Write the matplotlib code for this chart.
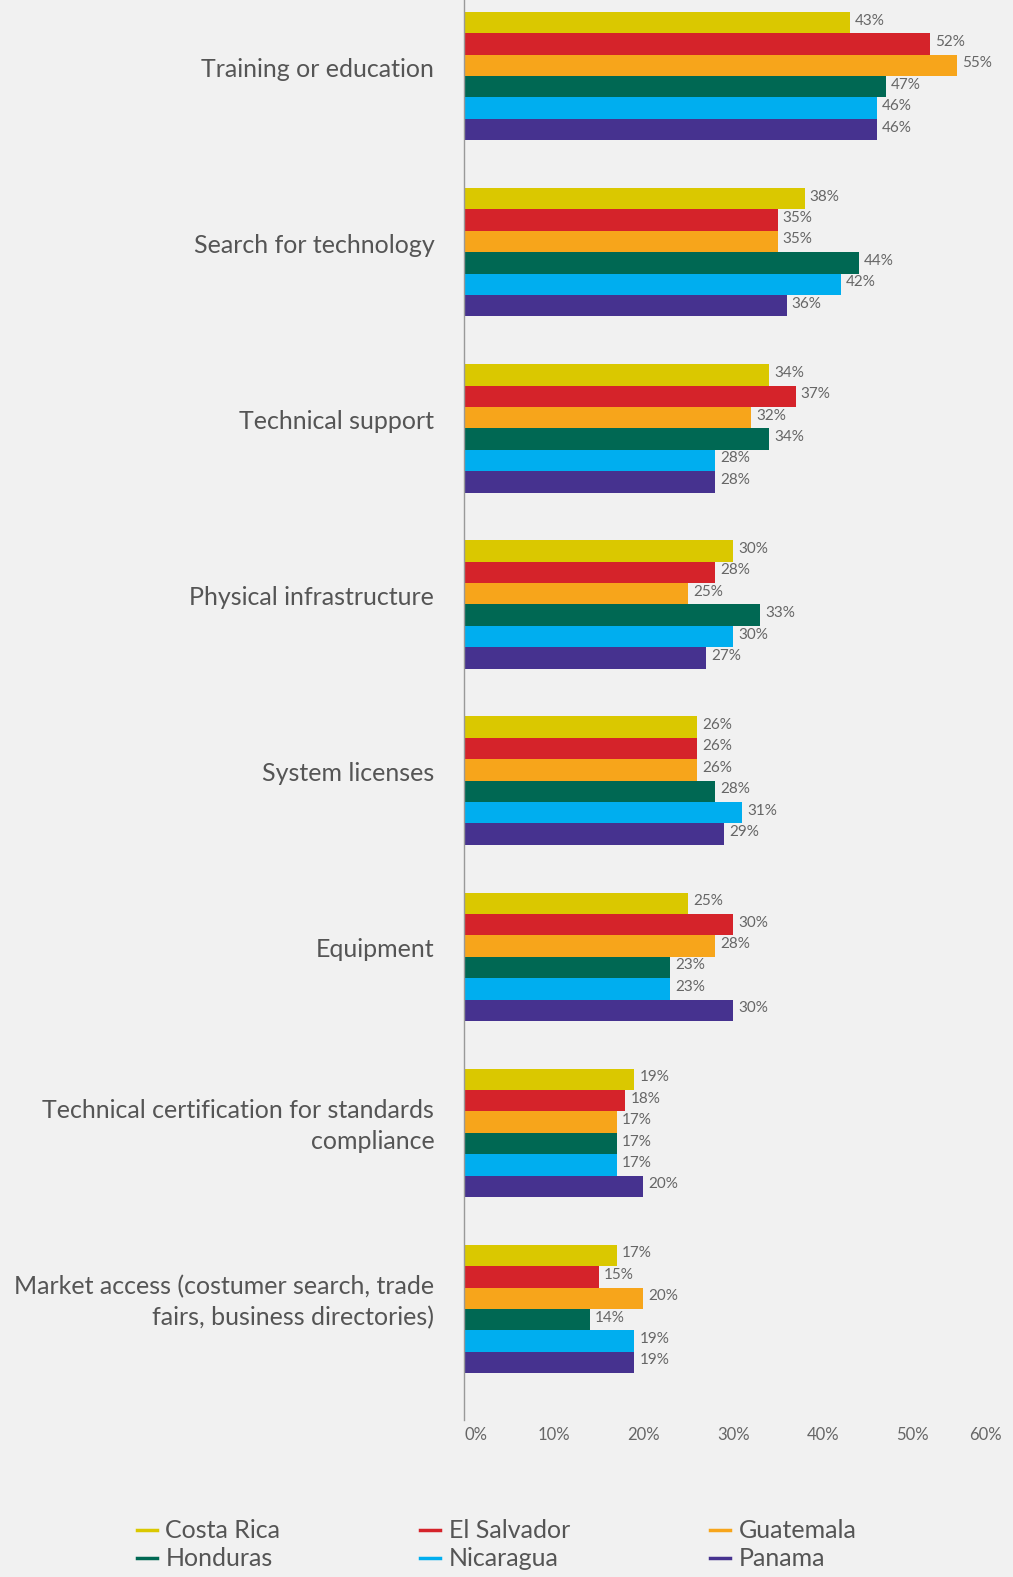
import matplotlib.pyplot as plt
import matplotlib.transforms as mtransforms
from matplotlib.lines import Line2D
import numpy as np

# Data
categories = [
    "Training or education",
    "Search for technology",
    "Technical support",
    "Physical infrastructure",
    "System licenses",
    "Equipment",
    "Technical certification for standards\ncompliance",
    "Market access (costumer search, trade\nfairs, business directories)",
]
countries = ["Costa Rica", "El Salvador", "Guatemala", "Honduras", "Nicaragua", "Panama"]
costa_rica = [43, 38, 34, 30, 26, 25, 19, 17]
el_salvador = [52, 35, 37, 28, 26, 30, 18, 15]
guatemala = [55, 35, 32, 25, 26, 28, 17, 20]
honduras = [47, 44, 34, 33, 28, 23, 17, 14]
nicaragua = [46, 42, 28, 30, 31, 23, 17, 19]
panama = [46, 36, 28, 27, 29, 30, 20, 19]
x_ticks = [0, 10, 20, 30, 40, 50, 60]

colors = ["#dac800", "#d5232a", "#f7a51b", "#006853", "#00aeef", "#46328f"]
series = [costa_rica, el_salvador, guatemala, honduras, nicaragua, panama]

bg = "#f1f1f1"
txt = "#555555"
plt.rcParams["font.family"] = ["Lato", "DejaVu Sans"]

fig = plt.figure(figsize=(10.13, 15.77), dpi=100, facecolor=bg)
ax = fig.add_axes([464 / 1013, 1 - 1420 / 1577, 1 - 464 / 1013, 1420 / 1577])
ax.set_facecolor(bg)

bar_h = 0.1215
y = np.arange(len(categories))
for i, (vals, c) in enumerate(zip(series, colors)):
    pos = y + (i - 2.5) * bar_h
    ax.barh(pos, vals, height=bar_h, color=c, linewidth=0)
    for p, v in zip(pos, vals):
        ax.annotate(f"{v}%", (v, p), xytext=(3.5, 1.5), textcoords="offset points",
                    va="center", ha="left", fontsize=11, color="#666666")

ax.set_xlim(0, 61.2)
ax.set_ylim(7.63, -0.432)

for s in ["top", "right", "bottom"]:
    ax.spines[s].set_visible(False)
ax.spines["left"].set_color("#999999")
ax.spines["left"].set_linewidth(1)

ax.set_yticks([])
ax.set_xticks(x_ticks)
ax.set_xticklabels([f"{t}%" for t in x_ticks], fontsize=12, color="#666666")
ax.tick_params(axis="x", length=0, pad=5)
ax.get_xticklabels()[0].set_ha("left")
ax.get_xticklabels()[-1].set_ha("right")

trans = mtransforms.blended_transform_factory(ax.transAxes, ax.transData)
for yi, cat in zip(y, categories):
    ax.text(-0.054, yi - 0.04, cat, transform=trans, ha="right", va="center",
            fontsize=18, color=txt, linespacing=1.4)

# legend is filled column by column, so reorder to read row by row
order = [0, 3, 1, 4, 2, 5]
handles = [Line2D([], [], color=colors[k], lw=2.5) for k in order]
labels = [countries[k] for k in order]
fig.legend(handles, labels, loc="upper left", bbox_to_anchor=(114 / 1013, 1 - 1497 / 1577),
           ncol=3, frameon=False, fontsize=18, labelcolor=txt, handlelength=0.8,
           handletextpad=0.35, columnspacing=5.6, labelspacing=0.2)

fig.savefig("out.png", dpi=100, facecolor=bg)
